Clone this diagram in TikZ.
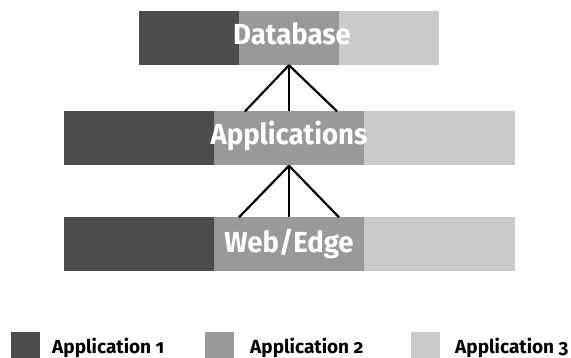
\documentclass[tikz,border=0pt]{standalone}
\usepackage{fontspec}
\setmainfont{Fira Sans}[Numbers=OldStyle]
\newfontfamily\tierfont{Fira Sans}[FakeStretch=0.95]
\usetikzlibrary{calc}
\definecolor{appone}{HTML}{4D4D4D}
\definecolor{apptwo}{HTML}{999999}
\definecolor{appthree}{HTML}{CACACA}

\begin{document}
\begin{tikzpicture}
        [x=1pt,y=-1pt]
            \tikzstyle{seg}=[rectangle, draw=none, inner sep=0pt, minimum height=54pt]
            \tikzstyle{tier}=[inner sep=0pt, text=white, anchor=base,
        font=\tierfont\fontsize{29}{30}\selectfont\bfseries]
            \tikzstyle{key}=[rectangle, inner sep=0pt, minimum width=29pt, minimum height=29pt, anchor=north west]
            \tikzstyle{keytext}=[inner sep=0pt, anchor=base west, font=\fontsize{19}{20}\selectfont\bfseries]
        \useasboundingbox (0,0) rectangle (571,358);
        %-----Database
         \node[seg, fill=appone, minimum width=100pt]  (DB1) at (189,38) {};
         \node[seg, fill=apptwo, minimum width=100pt]  (DB2) at (289,38) {};
         \node[seg, fill=appthree, minimum width=100pt]  (DB3) at (389,38) {};
         \node[tier]  (DB) at (292,45) {Database};
        %-----Applications
         \node[seg, fill=appone, minimum width=150pt]  (AP1) at (139,138.5) {};
         \node[seg, fill=apptwo, minimum width=150pt]  (AP2) at (289,138.5) {};
         \node[seg, fill=appthree, minimum width=151pt]  (AP3) at (439.5,138.5) {};
         \node[tier]  (AP) at (289,145) {Applications};
        %-----Web/Edge
         \node[seg, fill=appone, minimum width=150pt]  (WE1) at (139,244.5) {};
         \node[seg, fill=apptwo, minimum width=150pt]  (WE2) at (289,244.5) {};
         \node[seg, fill=appthree, minimum width=151pt]  (WE3) at (439.5,244.5) {};
         \node[tier]  (WE) at (289,253) {Web/Edge};

         \coordinate (APl) at ($(AP2.north)+(-44,0)$);
         \coordinate (APr) at ($(AP2.north)+(48,0)$);
         \coordinate (WEl) at ($(WE2.north)+(-50,0)$);
         \coordinate (WEr) at ($(WE2.north)+(50,0)$);

         \foreach \from/\to in {DB2/APl, DB2/AP2, DB2/APr, AP2/WEl, AP2/WE2, AP2/WEr}
         \draw[line width=2.2pt] (\from.south) -- (\to);

        %-----legend
         \node[key, fill=appone]  (K1) at (11,332) {};
         \node[key, fill=apptwo]  (K2) at (205,332) {};
         \node[key, fill=appthree]  (K3) at (411,332) {};
         \node[keytext]  (L1) at (52,354) {Application 1};
         \node[keytext]  (L2) at (250,354) {Application 2};
         \node[keytext]  (L3) at (455,354) {Application 3};
        \end{tikzpicture}
\end{document}
